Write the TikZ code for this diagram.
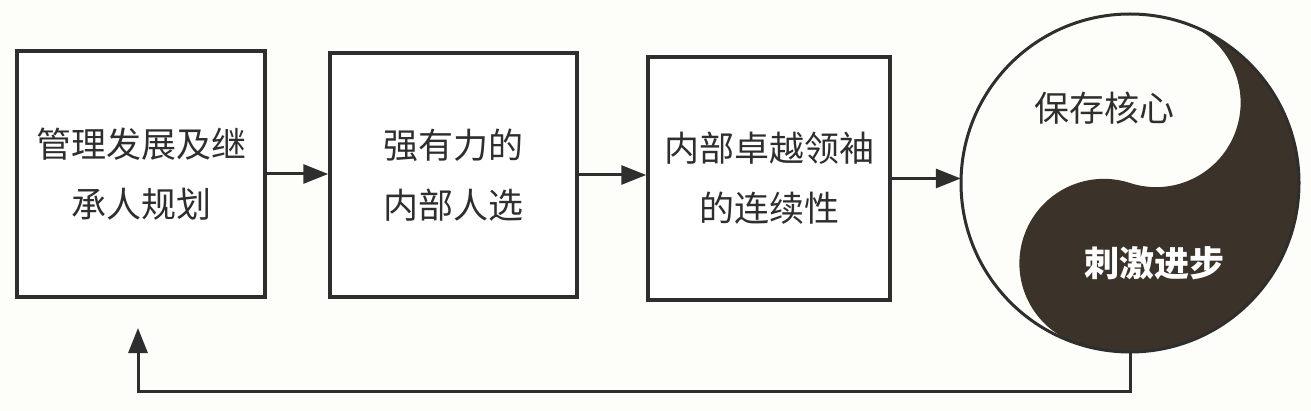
\documentclass[tikz,border=0pt]{standalone}
\usepackage{fontspec}
\setmainfont{Noto Sans CJK SC}
\usetikzlibrary{arrows.meta}
\definecolor{bgcol}{HTML}{FDFDF9}
\definecolor{ink}{HTML}{2E2E2E}
\definecolor{darkyin}{HTML}{3B3229}
\begin{document}
\begin{tikzpicture}[x=1pt,y=-1pt,
  stepbox/.style={draw=ink, line width=3.5pt, fill=white, align=center, inner sep=0pt,
     text=ink, font=\fontsize{35}{60}\selectfont},
  conn/.style={draw=ink, line width=3pt, -{Triangle[length=25pt,width=19pt]}},
  yylabel/.style={font=\fontsize{35}{40}\selectfont, inner sep=0pt}]
\useasboundingbox (0,0) rectangle (1311,411);
\fill[bgcol] (0,0) rectangle (1311,411);
\node[stepbox, minimum width=248pt, minimum height=246pt] (b1) at (141,174) {管理发展及继\\承人规划};
\node[stepbox, minimum width=247pt, minimum height=244pt] (b2) at (453.5,175) {强有力的\\内部人选};
\node[stepbox, minimum width=242pt, minimum height=243pt] (b3) at (769,178.5) {内部卓越领袖\\的连续性};
\node[circle, minimum size=338pt, inner sep=0pt] (yy) at (1130,183) {};
\begin{scope}[shift={(yy.center)}, y=1pt, rotate=-18]
  \fill[darkyin] (0,169) arc[start angle=90, end angle=-90, radius=169]
     arc[start angle=-90, end angle=-270, radius=84.5]
     arc[start angle=-90, end angle=90, radius=84.5] -- cycle;
\end{scope}
\draw[ink, line width=3pt] (yy.center) circle[radius=169pt];
\node[yylabel, text=ink] (t1) at (1104,108) {保存核心};
\node[yylabel, text=white, font=\fontsize{35}{40}\selectfont\bfseries] (t2) at (1154,263) {刺激进步};
\coordinate (fb) at (138,328);
\draw[conn] (b1.east) -- (b1.east -| b2.west);
\draw[conn] (b2.east) -- (b2.east -| b3.west);
\draw[conn] (b3.east) -- (b3.east -| yy.west);
\draw[conn] (yy.south) -- ++(0,39) -| (fb);
\end{tikzpicture}
\end{document}
